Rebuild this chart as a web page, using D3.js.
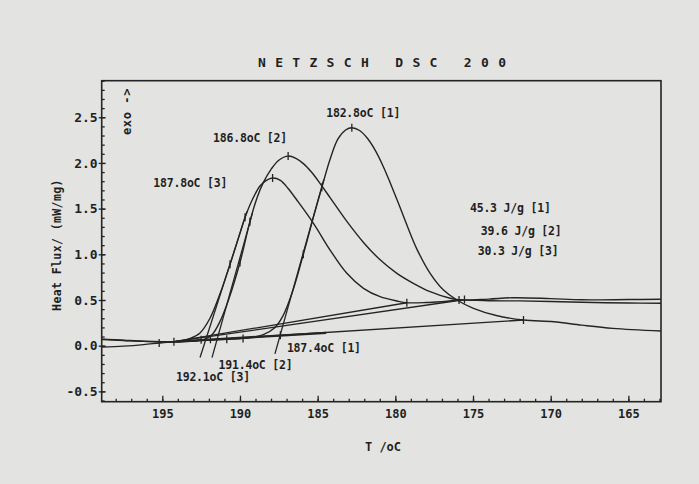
<!DOCTYPE html>
<html>
<head>
<meta charset="utf-8">
<script src="https://cdn.jsdelivr.net/npm/d3@7"></script>
<style>
  html, body { margin: 0; padding: 0; background: #e3e4e1; }
  svg { display: block; }
  text { font-family: "DejaVu Sans Mono", monospace; font-weight: bold; fill: #1f1f1f; }
</style>
</head>
<body>
<svg id="chart" width="699" height="484"></svg>
<script>
// ---------------- DATA ----------------
const title = "N E T Z S C H   D S C   2 0 0";
const xTitle = "T /oC";
const yTitle = "Heat Flux/ (mW/mg)";
const exoText = "exo ->";

const xMajorTicks = [195, 190, 185, 180, 175, 170, 165];
const yMajorTicks = [-0.5, 0.0, 0.5, 1.0, 1.5, 2.0, 2.5];
const yTickLabels = ["-0.5", "0.0", "0.5", "1.0", "1.5", "2.0", "2.5"];

// Curve [1]: peak 182.8 oC
const curve1 = [
  [198.9, -0.015], [197.5, -0.005], [196.2, 0.012], [195.2, 0.03], [194.3, 0.044],
  [192.5, 0.06], [190.5, 0.072], [189.3, 0.09], [188.5, 0.12], [187.8, 0.19],
  [187.25, 0.32], [186.6, 0.6], [185.92, 1.0], [185.27, 1.41], [184.73, 1.733],
  [184.2, 2.04], [183.7, 2.26], [183.2, 2.36], [182.8, 2.385], [182.3, 2.355],
  [181.8, 2.27], [181.3, 2.14], [180.8, 1.97], [180.3, 1.77], [179.8, 1.56],
  [179.3, 1.34], [178.62, 1.06], [177.76, 0.792], [176.9, 0.609], [176.04, 0.5],
  [174.97, 0.409], [173.5, 0.33], [171.75, 0.281], [169.8, 0.262], [168.0, 0.225],
  [166.0, 0.19], [162.9, 0.161]
];
// Curve [2]: peak 186.8 oC
const curve2 = [
  [198.9, 0.072], [197.5, 0.06], [196.2, 0.049], [195.0, 0.043], [194.0, 0.043],
  [193.0, 0.05], [192.3, 0.07], [191.8, 0.12], [191.3, 0.26], [190.7, 0.52],
  [190.0, 0.91], [189.36, 1.357], [188.9, 1.62], [188.5, 1.785], [188.0, 1.93],
  [187.5, 2.03], [186.9, 2.075], [186.4, 2.05], [185.9, 1.99], [185.4, 1.9],
  [184.8, 1.765], [184.2, 1.62], [183.12, 1.36], [182.05, 1.13], [180.98, 0.94],
  [179.9, 0.792], [178.84, 0.683], [177.76, 0.591], [176.47, 0.519], [175.72, 0.5],
  [174.0, 0.51], [172.4, 0.525], [170.0, 0.515], [168.0, 0.502], [165.0, 0.505],
  [162.9, 0.508]
];
// Curve [3]: peak 187.8 oC
const curve3 = [
  [198.9, 0.068], [197.5, 0.057], [196.2, 0.047], [195.0, 0.042], [194.0, 0.045],
  [193.2, 0.08], [192.57, 0.14], [191.93, 0.3], [191.28, 0.57], [190.64, 0.89],
  [190.15, 1.15], [189.67, 1.405], [189.2, 1.6], [188.7, 1.75], [188.3, 1.81],
  [187.9, 1.835], [187.4, 1.81], [186.9, 1.72], [186.34, 1.594], [185.27, 1.339],
  [184.2, 1.047], [183.12, 0.792], [182.05, 0.628], [180.98, 0.536], [179.9, 0.489],
  [179.26, 0.47], [178.0, 0.472], [177.0, 0.482], [175.72, 0.5], [174.0, 0.492],
  [172.0, 0.49], [170.0, 0.483], [168.0, 0.475], [165.0, 0.467], [162.9, 0.464]
];

// Integration baselines (start, end)
const baselines = [
  [[195.2, 0.03], [171.75, 0.281]],
  [[194.25, 0.044], [175.72, 0.5]],
  [[194.25, 0.044], [179.26, 0.47]]
];
// Extrapolated pre-peak baseline (thick segment)
const extraBaseline = [[194.1, 0.044], [184.45, 0.14]];

// Onset tangents (lower end, upper end)
const tangents = [
  [[187.75, -0.09], [184.6, 1.82]],
  [[191.8, -0.13], [189.2, 1.45]],
  [[192.57, -0.13], [189.55, 1.47]]
];

// Marker points on curves and lines
const markers = [
  [182.8, 2.385], [186.9, 2.075], [187.9, 1.835],
  [184.73, 1.733], [185.92, 1.0], [189.36, 1.357], [190.0, 0.91],
  [189.67, 1.405], [190.64, 0.89],
  [171.75, 0.281], [175.9, 0.5], [175.55, 0.505], [179.26, 0.47],
  [195.2, 0.03], [194.25, 0.044],
  [192.5, 0.065], [191.9, 0.07], [190.85, 0.07], [189.8, 0.08], [187.4, 0.115]
];

// Annotations: text with data anchor [T, v] (centre of text)
const peakLabels = ["182.8oC [1]", "186.8oC [2]", "187.8oC [3]"];
const peakLabelAt = [[182.07, 2.546], [189.35, 2.273], [193.2, 1.78]];
const onsetLabels = ["187.4oC [1]", "191.4oC [2]", "192.1oC [3]"];
const onsetLabelAt = [[184.6, -0.029], [189.0, -0.211], [191.74, -0.339]];
const enthalpyLabels = ["45.3 J/g [1]", "39.6 J/g [2]", "30.3 J/g [3]"];
const enthalpyLabelAt = [[172.6, 1.503], [171.9, 1.255], [172.1, 1.039]];

// ---------------- CHART ----------------
const svg = d3.select("#chart");
const L = 101.7, R = 661, T = 80.7, B = 401.7;
const x = d3.scaleLinear().domain([198.9, 162.9]).range([L, R]);
const y = d3.scaleLinear().domain([-0.613, 2.9]).range([B, T]);
const ink = "#242424";

// title
svg.append("text").attr("x", 258).attr("y", 67).attr("font-size", 13)
  .attr("letter-spacing", 0.75).style("white-space", "pre").text(title);

// clip
svg.append("clipPath").attr("id", "clip").append("rect")
  .attr("x", L).attr("y", T).attr("width", R - L).attr("height", B - T);
const g = svg.append("g").attr("clip-path", "url(#clip)");

const line = d3.line().x(d => x(d[0])).y(d => y(d[1]));
const smooth = d3.line().x(d => x(d[0])).y(d => y(d[1])).curve(d3.curveCatmullRom.alpha(0.5));

[curve1, curve2, curve3].forEach(c => {
  g.append("path").attr("d", smooth(c)).attr("fill", "none")
    .attr("stroke", ink).attr("stroke-width", 1.4);
});
baselines.concat(tangents).forEach(s => {
  g.append("path").attr("d", line(s)).attr("fill", "none")
    .attr("stroke", ink).attr("stroke-width", 1.3);
});
g.append("path").attr("d", line(extraBaseline)).attr("fill", "none")
  .attr("stroke", ink).attr("stroke-width", 2.4);

g.selectAll("line.mk").data(markers).enter().append("line")
  .attr("x1", d => x(d[0])).attr("x2", d => x(d[0]))
  .attr("y1", d => y(d[1]) - 4).attr("y2", d => y(d[1]) + 4)
  .attr("stroke", ink).attr("stroke-width", 1.3);

// axes
const xMinor = d3.range(163, 199, 1);
const xAxisMinor = d3.axisBottom(x).tickValues(xMinor).tickSize(-3).tickFormat("");
const xAxisMajor = d3.axisBottom(x).tickValues(xMajorTicks).tickSize(-6).tickPadding(8)
  .tickFormat(d3.format("d"));
const gxm = svg.append("g").attr("transform", `translate(0,${B})`).call(xAxisMinor);
const gx = svg.append("g").attr("transform", `translate(0,${B})`).call(xAxisMajor);
[gxm, gx].forEach(a => { a.select(".domain").remove(); a.selectAll("line").attr("stroke", ink).attr("stroke-width", 1.3); });
gx.selectAll("text").attr("font-size", 12).attr("font-family", "DejaVu Sans Mono").attr("font-weight", "bold").attr("fill", "#1f1f1f");

const yMinor = d3.range(-6, 30, 1).map(v => v / 10);
const yAxisMinor = d3.axisLeft(y).tickValues(yMinor).tickSize(-3).tickFormat("");
const yAxisMajor = d3.axisLeft(y).tickValues(yMajorTicks).tickSize(3).tickPadding(1)
  .tickFormat((d, i) => yTickLabels[i]);
const gym = svg.append("g").attr("transform", `translate(${L},0)`).call(yAxisMinor);
const gy = svg.append("g").attr("transform", `translate(${L},0)`).call(yAxisMajor);
[gym, gy].forEach(a => { a.select(".domain").remove(); a.selectAll("line").attr("stroke", ink).attr("stroke-width", 1.3); });
gy.selectAll(".tick").append("line").attr("x1", 0).attr("x2", 4).attr("stroke", ink).attr("stroke-width", 1.3);
gy.selectAll("text").attr("font-size", 13).attr("font-family", "DejaVu Sans Mono").attr("font-weight", "bold").attr("fill", "#1f1f1f");

// frame
svg.append("rect").attr("x", L).attr("y", T).attr("width", R - L).attr("height", B - T)
  .attr("fill", "none").attr("stroke", ink).attr("stroke-width", 1.6);

// axis titles
svg.append("text").attr("x", 383).attr("y", 451).attr("text-anchor", "middle")
  .attr("font-size", 12).text(xTitle);
svg.append("text").attr("transform", "translate(61,245) rotate(-90)")
  .attr("text-anchor", "middle").attr("font-size", 11.5).attr("letter-spacing", 0.4).text(yTitle);
svg.append("text").attr("transform", "translate(131,111.5) rotate(-90)")
  .attr("text-anchor", "middle").attr("font-size", 12).attr("letter-spacing", 0.6).text(exoText);

// annotations
function annotate(texts, pos) {
  texts.forEach((t, i) => {
    svg.append("text").attr("x", x(pos[i][0])).attr("y", y(pos[i][1]))
      .attr("dy", "0.36em").attr("text-anchor", "middle").attr("font-size", 11.5)
      .attr("letter-spacing", -0.2).text(t);
  });
}
annotate(peakLabels, peakLabelAt);
annotate(onsetLabels, onsetLabelAt);
annotate(enthalpyLabels, enthalpyLabelAt);
</script>
</body>
</html>
